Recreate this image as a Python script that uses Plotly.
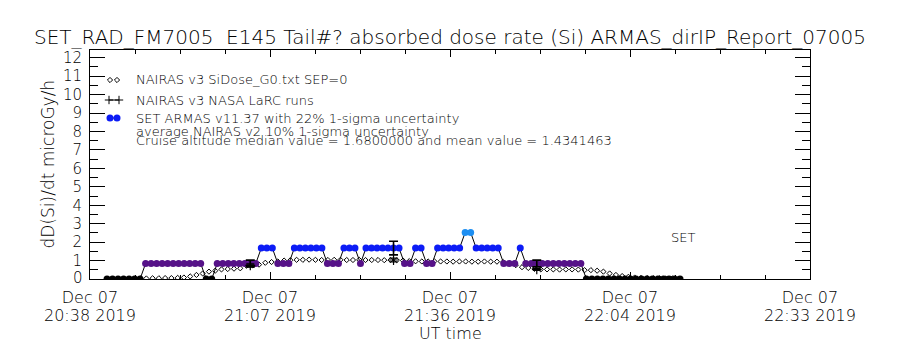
import plotly.graph_objects as go
import pandas as pd

# ---------------- data ----------------
start_time = "2019-12-07 20:38:00"
end_time = "2019-12-07 22:33:00"

tick_times = ["2019-12-07 20:38:00", "2019-12-07 21:06:45", "2019-12-07 21:35:30",
              "2019-12-07 22:04:15", "2019-12-07 22:33:00"]
tick_date = ["Dec 07", "Dec 07", "Dec 07", "Dec 07", "Dec 07"]
tick_clock = ["20:38 2019", "21:07 2019", "21:36 2019", "22:04 2019", "22:33 2019"]
y_ticks = [0, 1, 2, 3, 4, 5, 6, 7, 8, 9, 10, 11, 12]

# SET ARMAS dose rate (minutes after 20:38 UT)
armas_min = [2.72, 3.60, 4.48, 5.36, 6.24, 7.12, 8.00, 8.88, 9.76, 10.64,
             11.52, 12.40, 13.28, 14.16, 15.04, 15.92, 16.80, 17.68, 18.56, 19.44,
             20.32, 21.20, 22.08, 22.96, 23.84, 24.72, 25.60, 26.48, 27.36, 28.24,
             29.12, 30.00, 30.88, 31.76, 32.64, 33.52, 34.40, 35.28, 36.16, 37.04,
             37.92, 38.80, 39.68, 40.56, 41.44, 42.32, 43.20, 44.08, 44.96, 45.84,
             46.72, 47.60, 48.48, 49.36, 50.24, 51.12, 52.00, 52.88, 53.76, 54.64,
             55.52, 56.40, 57.28, 58.16, 59.04, 59.92, 60.80, 61.68, 62.56, 63.44,
             64.32, 65.20, 66.08, 66.96, 67.84, 68.72, 69.60, 70.48, 71.36, 72.24,
             73.12, 74.00, 74.88, 75.76, 76.64, 77.52, 78.40, 79.28, 80.16, 81.04,
             81.92, 82.80, 83.68, 84.56, 85.44, 86.32, 87.20, 88.08, 88.96, 89.84,
             90.72, 91.60, 92.48, 93.36, 94.24]
armas_val = [0, 0, 0, 0, 0, 0, 0, 0.84, 0.84, 0.84,
             0.84, 0.84, 0.84, 0.84, 0.84, 0.84, 0.84, 0.84, 0, 0,
             0.84, 0.84, 0.84, 0.84, 0.84, 0.84, 0.84, 0.84, 1.68, 1.68,
             1.68, 0.84, 0.84, 0.84, 1.68, 1.68, 1.68, 1.68, 1.68, 1.68,
             0.84, 0.84, 0.84, 1.68, 1.68, 1.68, 0.84, 1.68, 1.68, 1.68,
             1.68, 1.68, 1.68, 1.68, 0.84, 0.84, 1.68, 1.68, 0.84, 0.84,
             1.68, 1.68, 1.68, 1.68, 1.68, 2.52, 2.52, 1.68, 1.68, 1.68,
             1.68, 1.68, 0.84, 0.84, 0.84, 1.68, 0.84, 0.84, 0.84, 0.84,
             0.84, 0.84, 0.84, 0.84, 0.84, 0.84, 0.84, 0, 0, 0,
             0, 0, 0, 0, 0, 0, 0, 0, 0, 0,
             0, 0, 0, 0, 0]
armas_err_index = [26, 52, 78]      # points shown with 22% 1-sigma bars
armas_rel_err = 0.22

# NAIRAS v3 SiDose_G0 (1-minute cadence, minutes after 20:38 UT)
nairas_min = [8, 9, 10, 11, 12, 13, 14, 15, 16, 17, 18, 19, 20, 21, 22, 23, 24, 25,
              26, 27, 28, 29, 30, 31, 32, 33, 34, 35, 36, 37, 38, 39, 40, 41, 42, 43,
              44, 45, 46, 47, 48, 49, 50, 51, 52, 53, 54, 55, 56, 57, 58, 59, 60, 61,
              62, 63, 64, 65, 66, 67, 68, 69, 70, 71, 72, 73, 74, 75, 76, 77, 78, 79,
              80, 81, 82, 83, 84, 85, 86, 87, 88, 89, 90, 91, 92, 93, 94]
nairas_val = [0.03, 0.03, 0.04, 0.04, 0.05, 0.05, 0.06, 0.08, 0.14, 0.22, 0.30, 0.40,
              0.45, 0.52, 0.54, 0.56, 0.58, 0.72, 0.74, 0.78, 0.88, 0.92, 0.95, 1.00,
              1.02, 1.04, 1.04, 1.05, 1.04, 1.03, 1.03, 1.04, 1.04, 1.03, 1.03, 1.04,
              1.03, 1.03, 1.03, 1.02, 1.03, 1.02, 1.00, 0.97, 0.96, 0.95, 0.95, 0.96,
              0.95, 0.95, 0.94, 0.95, 0.95, 0.94, 0.94, 0.95, 0.94, 0.94, 0.92, 0.85,
              0.75, 0.64, 0.60, 0.55, 0.52, 0.52, 0.52, 0.51, 0.52, 0.52, 0.51, 0.48,
              0.48, 0.45, 0.40, 0.30, 0.22, 0.16, 0.12, 0.08, 0.06, 0.05, 0.04, 0.04,
              0.03, 0.03, 0.02]

# NAIRAS v3 NASA LaRC runs (10% 1-sigma)
larc_min = [25.60, 48.48, 71.36]
larc_val = [0.74, 1.03, 0.52]
larc_rel_err = 0.10

level_colors = {0: "#000000", 0.84: "#561288", 1.68: "#0c1cf6", 2.52: "#1e8ff2"}

# ---------------- build ----------------
base = pd.Timestamp(start_time)
armas_t = base + pd.to_timedelta(armas_min, unit="min")
nairas_t = base + pd.to_timedelta(nairas_min, unit="min")
larc_t = base + pd.to_timedelta(larc_min, unit="min")
armas_colors = [level_colors[v] for v in armas_val]

FONT = "DejaVu Sans"
WEIGHT = 200


def font(size):
    return dict(family=FONT, size=size, color="black", weight=WEIGHT)


fig = go.Figure()

fig.add_trace(go.Scatter(
    x=nairas_t, y=nairas_val, mode="markers",
    marker=dict(symbol="diamond-open", size=4, color="black", line=dict(width=1, color="black")),
    showlegend=False, hoverinfo="skip"))

fig.add_trace(go.Scatter(
    x=armas_t, y=armas_val, mode="lines+markers",
    line=dict(color="black", width=1),
    marker=dict(symbol="circle", size=7, color=armas_colors, line=dict(width=0)),
    showlegend=False))

err_t = [armas_t[i] for i in armas_err_index]
err_v = [armas_val[i] for i in armas_err_index]
fig.add_trace(go.Scatter(
    x=err_t, y=err_v, mode="markers",
    marker=dict(size=2, color="black", opacity=0),
    error_y=dict(type="data", array=[armas_rel_err * v for v in err_v],
                 color="black", thickness=1.6, width=4.5),
    showlegend=False))

fig.add_trace(go.Scatter(
    x=larc_t, y=larc_val, mode="markers",
    marker=dict(symbol="cross-thin-open", size=7, color="black", line=dict(width=1.2, color="black")),
    error_y=dict(type="data", array=[larc_rel_err * v for v in larc_val],
                 color="black", thickness=1.4, width=4),
    showlegend=False))

# legend glyphs on a hidden pixel-space overlay axis
fig.add_trace(go.Scatter(x=[110, 117], y=[80, 80], mode="markers", xaxis="x2", yaxis="y2",
                         marker=dict(symbol="diamond-open", size=4, color="black",
                                     line=dict(width=1, color="black")),
                         showlegend=False, cliponaxis=False, hoverinfo="skip"))
fig.add_trace(go.Scatter(x=[109, 119], y=[100, 100], mode="lines+markers", xaxis="x2", yaxis="y2",
                         line=dict(color="black", width=1),
                         marker=dict(symbol="cross-thin-open", size=6, color="black",
                                     line=dict(width=1, color="black")),
                         showlegend=False, cliponaxis=False, hoverinfo="skip"))
fig.add_trace(go.Scatter(x=[110, 117], y=[118, 118], mode="lines+markers", xaxis="x2", yaxis="y2",
                         line=dict(color="black", width=1),
                         marker=dict(symbol="circle", size=7, color=level_colors[1.68]),
                         showlegend=False, cliponaxis=False, hoverinfo="skip"))

legend_rows = [
    (79, "NAIRAS v3 SiDose_G0.txt SEP=0"),
    (100, "NAIRAS v3 NASA LaRC runs"),
    (118, "SET ARMAS v11.37 with 22% 1-sigma uncertainty"),
    (131, "average NAIRAS v2 10% 1-sigma uncertainty"),
    (140, "Cruise altitude median value = 1.6800000 and mean value = 1.4341463"),
]
annotations = []
for yy, txt in legend_rows:
    annotations.append(dict(x=134, y=yy, xref="x2", yref="y2", text=txt, showarrow=False,
                            xanchor="left", yanchor="middle", font=font(13)))
annotations.append(dict(x=683, y=237, xref="x2", yref="y2", text="SET", showarrow=False,
                        xanchor="center", yanchor="middle", font=font(13)))

# second line of the x tick labels
for t, c in zip(tick_times, tick_clock):
    annotations.append(dict(x=t, y=0, xref="x", yref="paper", text=c, showarrow=False,
                            xanchor="center", yanchor="top", yshift=-25, font=font(16)))
# zero label of y axis (drawn slightly above its tick as in the source)
annotations.append(dict(x=0, y=0, xref="paper", yref="y", text="0", showarrow=False,
                        xanchor="right", yanchor="middle", xshift=-5, yshift=1,
                        font=font(15)))
# axis titles
annotations.append(dict(x=(47 - 90) / 720, y=0.5, xref="paper", yref="paper",
                        text="dD(Si)/dt microGy/h", textangle=-90, showarrow=False,
                        xanchor="center", yanchor="middle", font=font(17)))
annotations.append(dict(x=0.5, y=(279 - 333) / 229, xref="paper", yref="paper",
                        text="UT time", showarrow=False, xanchor="center", yanchor="middle",
                        font=font(16)))

y_ticktext = ["" if v == 0 else str(v) for v in y_ticks]

fig.update_layout(
    width=900, height=350,
    margin=dict(l=90, r=90, t=50, b=71),
    paper_bgcolor="white", plot_bgcolor="white",
    showlegend=False,
    title=dict(text="SET_RAD_FM7005  E145 Tail#? absorbed dose rate (Si) ARMAS_dirIP_Report_07005",
               x=0.5, xanchor="center", xref="container",
               y=1 - 37 / 350, yanchor="middle", yref="container",
               font=font(20)),
    xaxis=dict(type="date", range=[start_time, end_time],
               tickvals=tick_times, ticktext=tick_date,
               tickfont=font(16),
               ticks="inside", ticklen=7, tickwidth=1, tickcolor="black",
               minor=dict(ticks="inside", ticklen=4, tickcolor="black",
                          dtick=431250, tick0=start_time, showgrid=False),
               showline=True, linecolor="black", linewidth=1, mirror="ticks",
               showgrid=False, zeroline=False, ticklabelstandoff=4),
    yaxis=dict(range=[0, 12.42], tickvals=y_ticks, ticktext=y_ticktext,
               tickfont=font(15),
               ticks="inside", ticklen=15, tickwidth=1, tickcolor="black",
               minor=dict(ticks="inside", ticklen=8, tickcolor="black", dtick=0.5, tick0=0,
                          showgrid=False),
               showline=True, linecolor="black", linewidth=1, mirror="ticks",
               showgrid=False, zeroline=False, ticklabelstandoff=4),
    xaxis2=dict(overlaying="x", anchor="y2", range=[90, 810], visible=False, fixedrange=True),
    yaxis2=dict(overlaying="y", anchor="x2", range=[279, 50], visible=False, fixedrange=True),
    annotations=annotations,
)

fig.write_html("out.html")
